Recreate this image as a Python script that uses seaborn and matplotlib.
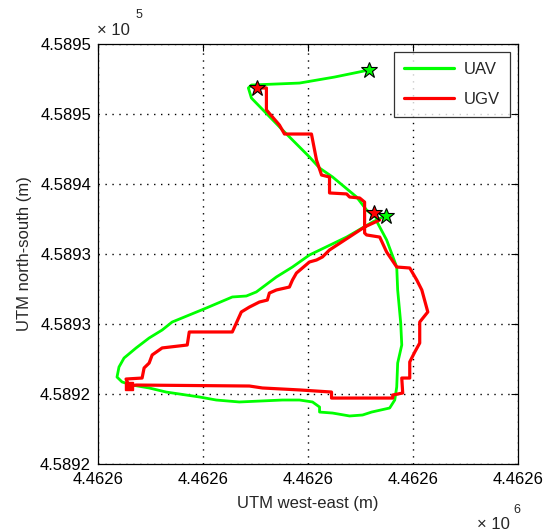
import numpy as np
import pandas as pd
import matplotlib
matplotlib.use('Agg')
import matplotlib.pyplot as plt
import seaborn as sns

# UTM origin of the plotted window (m)
E0 = 4462600.0
N0 = 458920.0

# UAV track, offsets from origin (m)
uav_e = [25.78, 22.53, 19.19, 14.61, 14.32, 14.61, 17.57, 20.14, 21.10, 22.34,
         24.63, 25.58, 26.54, 26.63, 27.49, 28.45, 28.54, 28.83, 28.93, 28.54,
         28.45, 28.26, 27.78, 26.06, 25.20, 23.96, 22.34, 21.10, 21.10, 20.43,
         19.19, 17.57, 13.46, 11.26, 9.64, 6.49, 4.87, 3.25, 2.29, 1.81,
         2.00, 2.48, 3.63, 4.87, 6.11, 7.06, 10.31, 12.79, 14.13, 15.08,
         16.99, 18.52, 20.14, 23.68, 26.16, 27.30]
uav_n = [28.14, 27.64, 27.21, 27.07, 26.86, 26.14, 23.86, 21.93, 21.14, 20.50,
         19.07, 18.14, 17.57, 17.21, 16.00, 14.07, 12.43, 10.07, 8.50, 7.21,
         5.50, 4.57, 4.00, 3.71, 3.50, 3.43, 3.64, 3.71, 4.07, 4.43,
         4.57, 4.57, 4.43, 4.57, 4.79, 5.14, 5.43, 5.64, 5.86, 6.21,
         6.93, 7.57, 8.29, 9.00, 9.57, 10.14, 11.14, 11.93, 12.00, 12.29,
         13.36, 14.07, 14.93, 16.21, 17.29, 17.71]

# UGV track, offsets from origin (m)
ugv_e = [15.18, 16.04, 16.04, 17.28, 17.76, 20.33, 20.81, 21.29, 22.05, 22.05,
         23.68, 23.96, 24.92, 25.39, 25.39, 25.58, 26.83, 27.49, 28.45, 29.69,
         30.36, 30.84, 31.41, 30.64, 30.64, 30.17, 29.69, 29.69, 28.93, 29.02,
         28.07, 28.07, 22.24, 22.24, 19.19, 15.66, 14.42, 3.63, 2.96, 2.67,
         4.20, 4.39, 4.87, 5.16, 6.11, 8.50, 8.69, 12.79, 13.65, 14.42,
         15.37, 16.13, 16.32, 16.99, 18.23, 18.52, 18.90, 20.14, 20.81, 21.38,
         22.05, 25.39, 26.83]
ugv_n = [26.86, 26.86, 25.29, 24.21, 23.57, 23.57, 21.71, 20.64, 20.50, 19.36,
         19.29, 19.07, 19.00, 18.71, 16.50, 16.36, 16.21, 15.14, 14.07, 14.00,
         13.14, 12.43, 10.86, 10.14, 8.64, 8.00, 7.29, 6.14, 6.14, 5.07,
         4.93, 4.71, 4.71, 5.14, 5.29, 5.43, 5.57, 5.64, 5.57, 6.07,
         6.14, 6.86, 7.21, 7.79, 8.29, 8.50, 9.43, 9.43, 10.86, 11.21,
         11.57, 11.71, 12.21, 12.43, 12.64, 13.14, 13.64, 14.43, 14.57, 14.79,
         15.29, 16.93, 17.43]

# waypoint stars and UGV start square
uav_star_e = [25.78, 27.40]
uav_star_n = [28.14, 17.71]
ugv_star_e = [15.18, 26.25]
ugv_star_n = [26.86, 17.93]
ugv_square = (2.96, 5.57)

x_ticks = [0, 10, 20, 30, 40]
x_labels = ['4.4626'] * 5
y_ticks = [0, 5, 10, 15, 20, 25, 30]
y_labels = ['4.5892', '4.5892', '4.5893', '4.5893', '4.5894', '4.5895', '4.5895']

df = pd.concat([
    pd.DataFrame({'east': E0 + np.array(uav_e), 'north': N0 + np.array(uav_n), 'vehicle': 'UAV'}),
    pd.DataFrame({'east': E0 + np.array(ugv_e), 'north': N0 + np.array(ugv_n), 'vehicle': 'UGV'}),
], ignore_index=True)

sns.set_style('white')
plt.rcParams['font.family'] = ['Liberation Sans', 'DejaVu Sans']
plt.rcParams['font.size'] = 12

fig = plt.figure(figsize=(5.45, 5.31), dpi=100)
ax = fig.add_axes([98 / 545, 67 / 531, 420 / 545, 420 / 531])

sns.lineplot(data=df, x='east', y='north', hue='vehicle', sort=False, estimator=None,
             palette={'UAV': '#00ff00', 'UGV': '#ff0000'}, linewidth=2.0, ax=ax)
# make the UGV line slightly heavier
for line in ax.get_lines():
    if line.get_color() in ('#ff0000', (1.0, 0.0, 0.0, 1.0)):
        line.set_linewidth(2.3)

ax.plot(E0 + ugv_square[0], N0 + ugv_square[1], 's', color='#ff0000', ms=6, mec='#ff0000')
ax.plot(E0 + np.array(uav_star_e), N0 + np.array(uav_star_n), '*', ms=12,
        mfc='#00ff00', mec='black', mew=0.8, ls='none')
ax.plot(E0 + np.array(ugv_star_e), N0 + np.array(ugv_star_n), '*', ms=12,
        mfc='#ff0000', mec='black', mew=0.8, ls='none')

ax.set_xlim(E0 + x_ticks[0], E0 + x_ticks[-1])
ax.set_ylim(N0 + y_ticks[0], N0 + y_ticks[-1])
ax.set_xticks(E0 + np.array(x_ticks))
ax.set_xticklabels(x_labels)
ax.set_yticks(N0 + np.array(y_ticks))
ax.set_yticklabels(y_labels)
ax.tick_params(direction='in', length=5, width=0.8, top=True, right=True,
               labelsize=12, colors='black')
ax.tick_params(axis='x', pad=6)
ax.tick_params(axis='y', pad=5)
ax.grid(True, color='black', linestyle=(0, (1, 4)), linewidth=1.0)
for s in ax.spines.values():
    s.set_color('black')
    s.set_linewidth(0.9)

ax.set_xlabel('UTM west-east (m)', fontsize=12, labelpad=6)
ax.set_ylabel('UTM north-south (m)', fontsize=12, labelpad=6)

leg = ax.legend(loc='upper right', fontsize=12, frameon=True, fancybox=False,
                edgecolor='black', handlelength=3.0, handletextpad=0.6,
                borderaxespad=0.5, labelspacing=0.9, borderpad=0.6)
leg.get_frame().set_linewidth(0.9)
for h in leg.get_lines():
    h.set_linewidth(2.3)

# MATLAB-style exponent labels
fig.text(97 / 545, 1 - 35 / 531, '\u00d7 10', fontsize=12, ha='left', va='baseline')
fig.text(136 / 545, 1 - 18 / 531, '5', fontsize=9, ha='left', va='baseline')
fig.text(477 / 545, 1 - 529 / 531, '\u00d7 10', fontsize=12, ha='left', va='baseline')
fig.text(513 / 545, 1 - 513 / 531, '6', fontsize=9, ha='left', va='baseline')

fig.savefig('out.png', dpi=100, facecolor='white')
